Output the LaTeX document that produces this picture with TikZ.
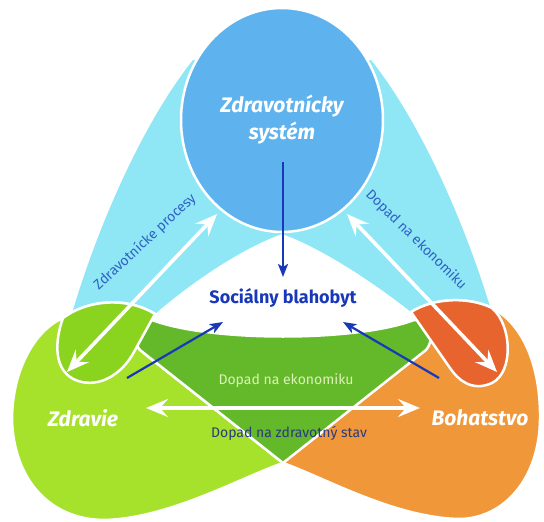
\documentclass[tikz,border=0pt]{standalone}
\usepackage{fontspec}
\setmainfont{Fira Sans}
\usetikzlibrary{arrows.meta,shapes.geometric}
\definecolor{cyanA}{HTML}{8FE7F5}
\definecolor{blueC}{HTML}{5EB3EF}
\definecolor{limeL}{HTML}{A6E22B}
\definecolor{limeD}{HTML}{8AD420}
\definecolor{greenD}{HTML}{63B92A}
\definecolor{orangeL}{HTML}{F0973A}
\definecolor{orangeD}{HTML}{E8642E}
\definecolor{navyA}{HTML}{1838B8}
\definecolor{labelBlue}{HTML}{2F62C4}
\definecolor{paleG}{HTML}{DDF2B8}
\definecolor{darkNavy}{HTML}{2A3A7E}
\begin{document}
\begin{tikzpicture}[x=1pt,y=-1pt,
  region/.style={draw=white,line width=2.5pt,line join=round},
  warrow/.style={draw=white,line width=3.6pt,{Stealth[length=22pt,width=18pt,inset=8pt]}-{Stealth[length=22pt,width=18pt,inset=8pt]}},
  barrow/.style={draw=navyA,line width=2.2pt,-{Stealth[length=13pt,width=10pt,inset=3pt]}},
  bigtitle/.style={text=white,font=\fontsize{21}{27}\selectfont\bfseries\itshape,align=center},
  lobetitle/.style={text=white,font=\fontsize{21}{25}\selectfont\bfseries\itshape},
  smalllabel/.style={font=\fontsize{14}{16}\selectfont,inner sep=0pt}]
\useasboundingbox (0,0) rectangle (544,522);

% cyan ribbon
\fill[cyanA] (193,60) .. controls (145,120) and (100,220) .. (73,310)
  -- (80,335) -- (148,335) -- (155,314)
  .. controls (200,275) and (250,245) .. (282,234)
  .. controls (314,245) and (364,275) .. (411,312)
  -- (418,335) -- (485,335) -- (491,310)
  .. controls (464,220) and (419,120) .. (371,60)
  -- (282,80) -- cycle;

% lime lobe (Zdravie)
\filldraw[region,fill=limeL] (283,463) -- (426,350)
  .. controls (436,338) and (431,320) .. (414,320)
  .. controls (356,342) and (210,342) .. (152,320)
  -- (155,314) .. controls (130,298) and (90,298) .. (63,318)
  .. controls (35,330) and (12,370) .. (12,420)
  .. controls (14,480) and (50,520) .. (105,520)
  .. controls (170,518) and (240,478) .. (283,463) -- cycle;

% orange lobe (Bohatstvo)
\filldraw[region,fill=orangeL] (283,463) -- (140,350)
  .. controls (130,338) and (135,320) .. (152,320)
  .. controls (210,342) and (356,342) .. (414,320)
  -- (411,312) .. controls (435,297) and (470,297) .. (492,308)
  .. controls (525,325) and (541,370) .. (540,420)
  .. controls (539,478) and (505,518) .. (460,519)
  .. controls (395,518) and (325,478) .. (283,463) -- cycle;

% overlap region
\filldraw[region,fill=greenD] (283,463) -- (140,350)
  .. controls (130,338) and (135,320) .. (152,320)
  .. controls (210,342) and (356,342) .. (414,320)
  .. controls (431,320) and (436,338) .. (426,350) -- cycle;

% ribbon ends
\filldraw[region,fill=limeD] (155,314) .. controls (130,298) and (90,298) .. (63,318)
  .. controls (55,340) and (52,372) .. (78,381)
  .. controls (100,388) and (122,374) .. (134,352) -- cycle;
\filldraw[region,fill=orangeD] (411,312) .. controls (435,297) and (470,297) .. (492,308)
  .. controls (512,325) and (514,372) .. (492,383)
  .. controls (472,392) and (458,380) .. (450,368) -- cycle;

% health system circle
\node[ellipse,fill=blueC,draw=white,line width=2.5pt,minimum width=202pt,minimum height=224pt,inner sep=0pt,bigtitle] (sys) at (282,120) {Zdravotnícky\\systém};

% texts
\node[text=navyA,font=\fontsize{18}{21}\selectfont\bfseries] (soc) at (283,298) {Sociálny blahobyt};
\node[lobetitle] (zdr) at (83,418) {Zdravie};
\node[lobetitle] (boh) at (480,418) {Bohatstvo};
\node[smalllabel,text=paleG] (ekoC) at (286,381) {Dopad na ekonomiku};
\node[smalllabel,text=darkNavy] (zst) at (289,433) {Dopad na zdravotný stav};
\node[smalllabel,text=labelBlue,rotate=43] (proc) at (145,242) {Zdravotnícke procesy};
\node[smalllabel,text=labelBlue,rotate=-44.6] (ekoR) at (416,240) {Dopad na ekonomiku};

% arrow end points
\coordinate (aL1) at (67,372);
\coordinate (aL2) at (217,214);
\coordinate (aR1) at (347,214);
\coordinate (aR2) at (497,372);
\coordinate (hL) at (146,408);
\coordinate (hR) at (420,408);
\coordinate (bT1) at (283,162);
\coordinate (bT2) at (283,277);
\coordinate (bL1) at (127,378);
\coordinate (bL2) at (223,322);
\coordinate (bR1) at (439,378);
\coordinate (bR2) at (343,322);

% white arrows
\draw[warrow] (aL1) -- (aL2);
\draw[warrow] (aR1) -- (aR2);
\draw[warrow] (hL) -- (hR);

% blue arrows
\draw[barrow] (bT1) -- (bT2);
\draw[barrow] (bL1) -- (bL2);
\draw[barrow] (bR1) -- (bR2);
\end{tikzpicture}
\end{document}
